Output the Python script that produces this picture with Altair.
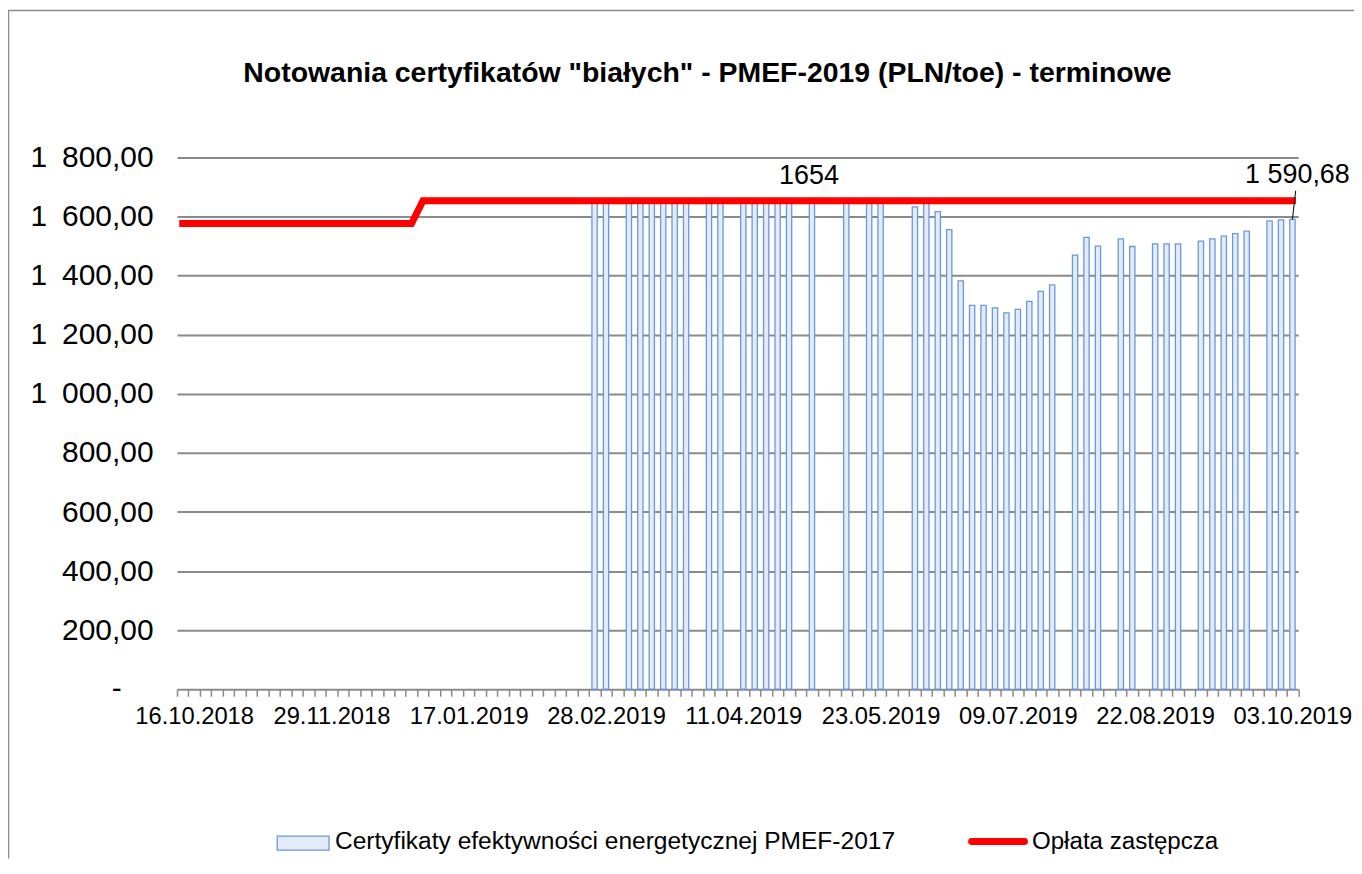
import json
import altair as alt
import pandas as pd

# ---- categories (trading sessions, Tue/Thu) ----
sessions = [
    "11.10.2018", "16.10.2018", "18.10.2018", "23.10.2018", "25.10.2018", "30.10.2018",
    "06.11.2018", "08.11.2018", "13.11.2018", "15.11.2018", "20.11.2018", "22.11.2018", "27.11.2018", "29.11.2018",
    "04.12.2018", "06.12.2018", "11.12.2018", "13.12.2018", "18.12.2018", "20.12.2018", "27.12.2018",
    "03.01.2019", "08.01.2019", "10.01.2019", "15.01.2019", "17.01.2019", "22.01.2019", "24.01.2019", "29.01.2019", "31.01.2019",
    "05.02.2019", "07.02.2019", "12.02.2019", "14.02.2019", "19.02.2019", "21.02.2019", "26.02.2019", "28.02.2019",
    "05.03.2019", "07.03.2019", "12.03.2019", "14.03.2019", "19.03.2019", "21.03.2019", "26.03.2019", "28.03.2019",
    "02.04.2019", "04.04.2019", "09.04.2019", "11.04.2019", "16.04.2019", "18.04.2019", "23.04.2019", "25.04.2019", "30.04.2019",
    "02.05.2019", "07.05.2019", "09.05.2019", "14.05.2019", "16.05.2019", "21.05.2019", "23.05.2019", "28.05.2019", "30.05.2019",
    "04.06.2019", "06.06.2019", "11.06.2019", "13.06.2019", "18.06.2019", "25.06.2019", "27.06.2019",
    "02.07.2019", "04.07.2019", "09.07.2019", "11.07.2019", "16.07.2019", "18.07.2019", "23.07.2019", "25.07.2019", "30.07.2019",
    "01.08.2019", "06.08.2019", "08.08.2019", "13.08.2019", "20.08.2019", "22.08.2019", "27.08.2019", "29.08.2019",
    "03.09.2019", "05.09.2019", "10.09.2019", "12.09.2019", "17.09.2019", "19.09.2019", "24.09.2019", "26.09.2019",
    "01.10.2019", "03.10.2019",
]

label_dates = ["16.10.2018", "29.11.2018", "17.01.2019", "28.02.2019", "11.04.2019",
               "23.05.2019", "09.07.2019", "22.08.2019", "03.10.2019"]

# ---- series: certificate quotes (bars) ----
cert_dates = [
    "26.02.2019", "28.02.2019", "07.03.2019", "12.03.2019", "14.03.2019", "19.03.2019", "21.03.2019", "26.03.2019",
    "02.04.2019", "04.04.2019", "11.04.2019", "16.04.2019", "18.04.2019", "23.04.2019", "25.04.2019",
    "02.05.2019", "14.05.2019", "21.05.2019", "23.05.2019",
    "04.06.2019", "06.06.2019", "11.06.2019", "13.06.2019", "18.06.2019", "25.06.2019", "27.06.2019",
    "02.07.2019", "04.07.2019", "09.07.2019", "11.07.2019", "16.07.2019", "18.07.2019", "25.07.2019", "30.07.2019",
    "01.08.2019", "08.08.2019", "13.08.2019", "22.08.2019", "27.08.2019", "29.08.2019",
    "05.09.2019", "10.09.2019", "12.09.2019", "17.09.2019", "19.09.2019", "26.09.2019",
    "01.10.2019", "03.10.2019",
]
cert_values = [
    1652, 1652, 1652, 1652, 1652, 1652, 1652, 1652,
    1652, 1652, 1652, 1652, 1652, 1652, 1652,
    1652, 1652, 1652, 1652,
    1633, 1652, 1617, 1556, 1383, 1300, 1300,
    1291, 1274, 1286, 1313, 1347, 1369, 1470, 1530,
    1500, 1525, 1499, 1508, 1508, 1508,
    1517, 1525, 1534, 1543, 1551, 1586,
    1589, 1590.68,
]

# ---- series: substitute fee (line) ----
fee_values = [1577] * 21 + [1654] * 77

y_ticks = [200, 400, 600, 800, 1000, 1200, 1400, 1600, 1800]
zero_label = "-"

title_text = 'Notowania certyfikatów "białych" - PMEF-2019 (PLN/toe) - terminowe'
legend_bar = "Certyfikaty efektywności energetycznej PMEF-2017"
legend_line = "Opłata zastępcza"
fee_label_session = "02.05.2019"
fee_label_value = 1654
last_label_session = "03.10.2019"
last_label_value = 1590.68

FONT = "Liberation Sans"
GRID = "#8a8a8a"
BAR_FILL = "#e3ebf7"
BAR_STROKE = "#6a98dd"

bars_df = pd.DataFrame({"session": cert_dates, "value": cert_values})
fee_df = pd.DataFrame({"session": sessions, "value": fee_values})
lbl1_df = pd.DataFrame({"session": [fee_label_session], "value": [fee_label_value], "txt": ["1654"]})
lbl2_df = pd.DataFrame({"session": [last_label_session], "value": [last_label_value], "txt": ["1 590,68"]})
zero_df = pd.DataFrame({"value": [0], "txt": [zero_label]})
one = pd.DataFrame({"t": [title_text], "l1": [legend_bar], "l2": [legend_line]})

label_expr = "indexof(" + json.dumps(label_dates) + ", datum.value) >= 0 ? datum.value : ''"
# thousands separator shown as a space, decimal comma
y_label_expr = "replace(replace(format(datum.value, ',.2f'), ',', '\u2002'), '.', ',')"

X = alt.X(
    "session:O",
    sort=sessions,
    scale=alt.Scale(domain=sessions, paddingInner=0, paddingOuter=0),
    axis=alt.Axis(
        title=None, labelExpr=label_expr, labelOverlap=False, labelAngle=0,
        labelFont=FONT, labelFontSize=23.8, labelColor="#000000", labelPadding=8,
        tickBand="extent", tickSize=7, tickColor=GRID, tickWidth=1.5,
        domainColor=GRID, domainWidth=2, grid=False, labelFlush=False, labelBound=False,
    ),
)
Y = alt.Y(
    "value:Q",
    scale=alt.Scale(domain=[0, 1800], nice=False, zero=True),
    axis=alt.Axis(
        title=None, values=y_ticks, labelExpr=y_label_expr,
        labelFont=FONT, labelFontSize=30, labelColor="#000000", labelPadding=24,
        ticks=False, domain=False, grid=True, gridColor=GRID, gridWidth=2,
    ),
)

bars = alt.Chart(bars_df).mark_bar(
    size=5.3, fill=BAR_FILL, stroke=BAR_STROKE, strokeWidth=1.3
).encode(x=X, y=Y)

line = alt.Chart(fee_df).mark_line(
    color="#ff0000", strokeWidth=7, strokeCap="square"
).encode(x=X, y=Y)

zero_lbl = alt.Chart(zero_df).mark_text(
    font=FONT, fontSize=30, color="#000000", align="center", baseline="middle"
).encode(x=alt.value(-60.5), y=Y, text="txt:N")

lbl1 = alt.Chart(lbl1_df).mark_text(
    font=FONT, fontSize=27, color="#000000", baseline="alphabetic", dy=-17, dx=-3
).encode(x=X, y=Y, text="txt:N")

lbl2 = alt.Chart(lbl2_df).mark_text(
    font=FONT, fontSize=27, color="#000000", baseline="alphabetic", dy=-37, dx=5
).encode(x=X, y=Y, text="txt:N")

leader = alt.Chart(lbl2_df).mark_rule(color="#000000", strokeWidth=1).encode(
    x=X, y=Y, x2=alt.value(1122), y2=alt.value(33.2)
)

title = alt.Chart(one).mark_text(
    font=FONT, fontSize=28.5, fontWeight="bold", color="#000000", align="center", baseline="alphabetic"
).encode(x=alt.value(532), y=alt.value(-76), text="t:N")

leg_rect = alt.Chart(one).mark_rect(fill=BAR_FILL, stroke=BAR_STROKE, strokeWidth=1.3).encode(
    x=alt.value(100.5), x2=alt.value(152.5), y=alt.value(680.5), y2=alt.value(694.5)
)
leg_line = alt.Chart(one).mark_rule(color="#ff0000", strokeWidth=7, strokeCap="round").encode(
    x=alt.value(797), x2=alt.value(850), y=alt.value(686)
)
leg_t1 = alt.Chart(one).mark_text(
    font=FONT, fontSize=24.6, color="#000000", align="left", baseline="middle"
).encode(x=alt.value(158.5), y=alt.value(686), text="l1:N")
leg_t2 = alt.Chart(one).mark_text(
    font=FONT, fontSize=24.2, color="#000000", align="left", baseline="middle"
).encode(x=alt.value(857.5), y=alt.value(686), text="l2:N")

border_left = alt.Chart(one).mark_rule(color="#8c8c8c", strokeWidth=1.5).encode(
    x=alt.value(-169), y=alt.value(-148), y2=alt.value(703)
)
border_top = alt.Chart(one).mark_rule(color="#8c8c8c", strokeWidth=1.5).encode(
    x=alt.value(-169), x2=alt.value(1190), y=alt.value(-147.5)
)

chart = alt.layer(
    bars, line, zero_lbl, lbl1, leader, lbl2, title, leg_rect, leg_line, leg_t1, leg_t2,
    border_left, border_top
).properties(
    width=1124.5,
    height=533.2,
    autosize=alt.AutoSizeParams(type="none"),
    padding={"left": 169.5, "top": 148.8, "right": 56, "bottom": 170},
    background="#ffffff",
).configure_view(stroke=None)

chart.save("out.html", embed_options={"renderer": "svg", "actions": False})
